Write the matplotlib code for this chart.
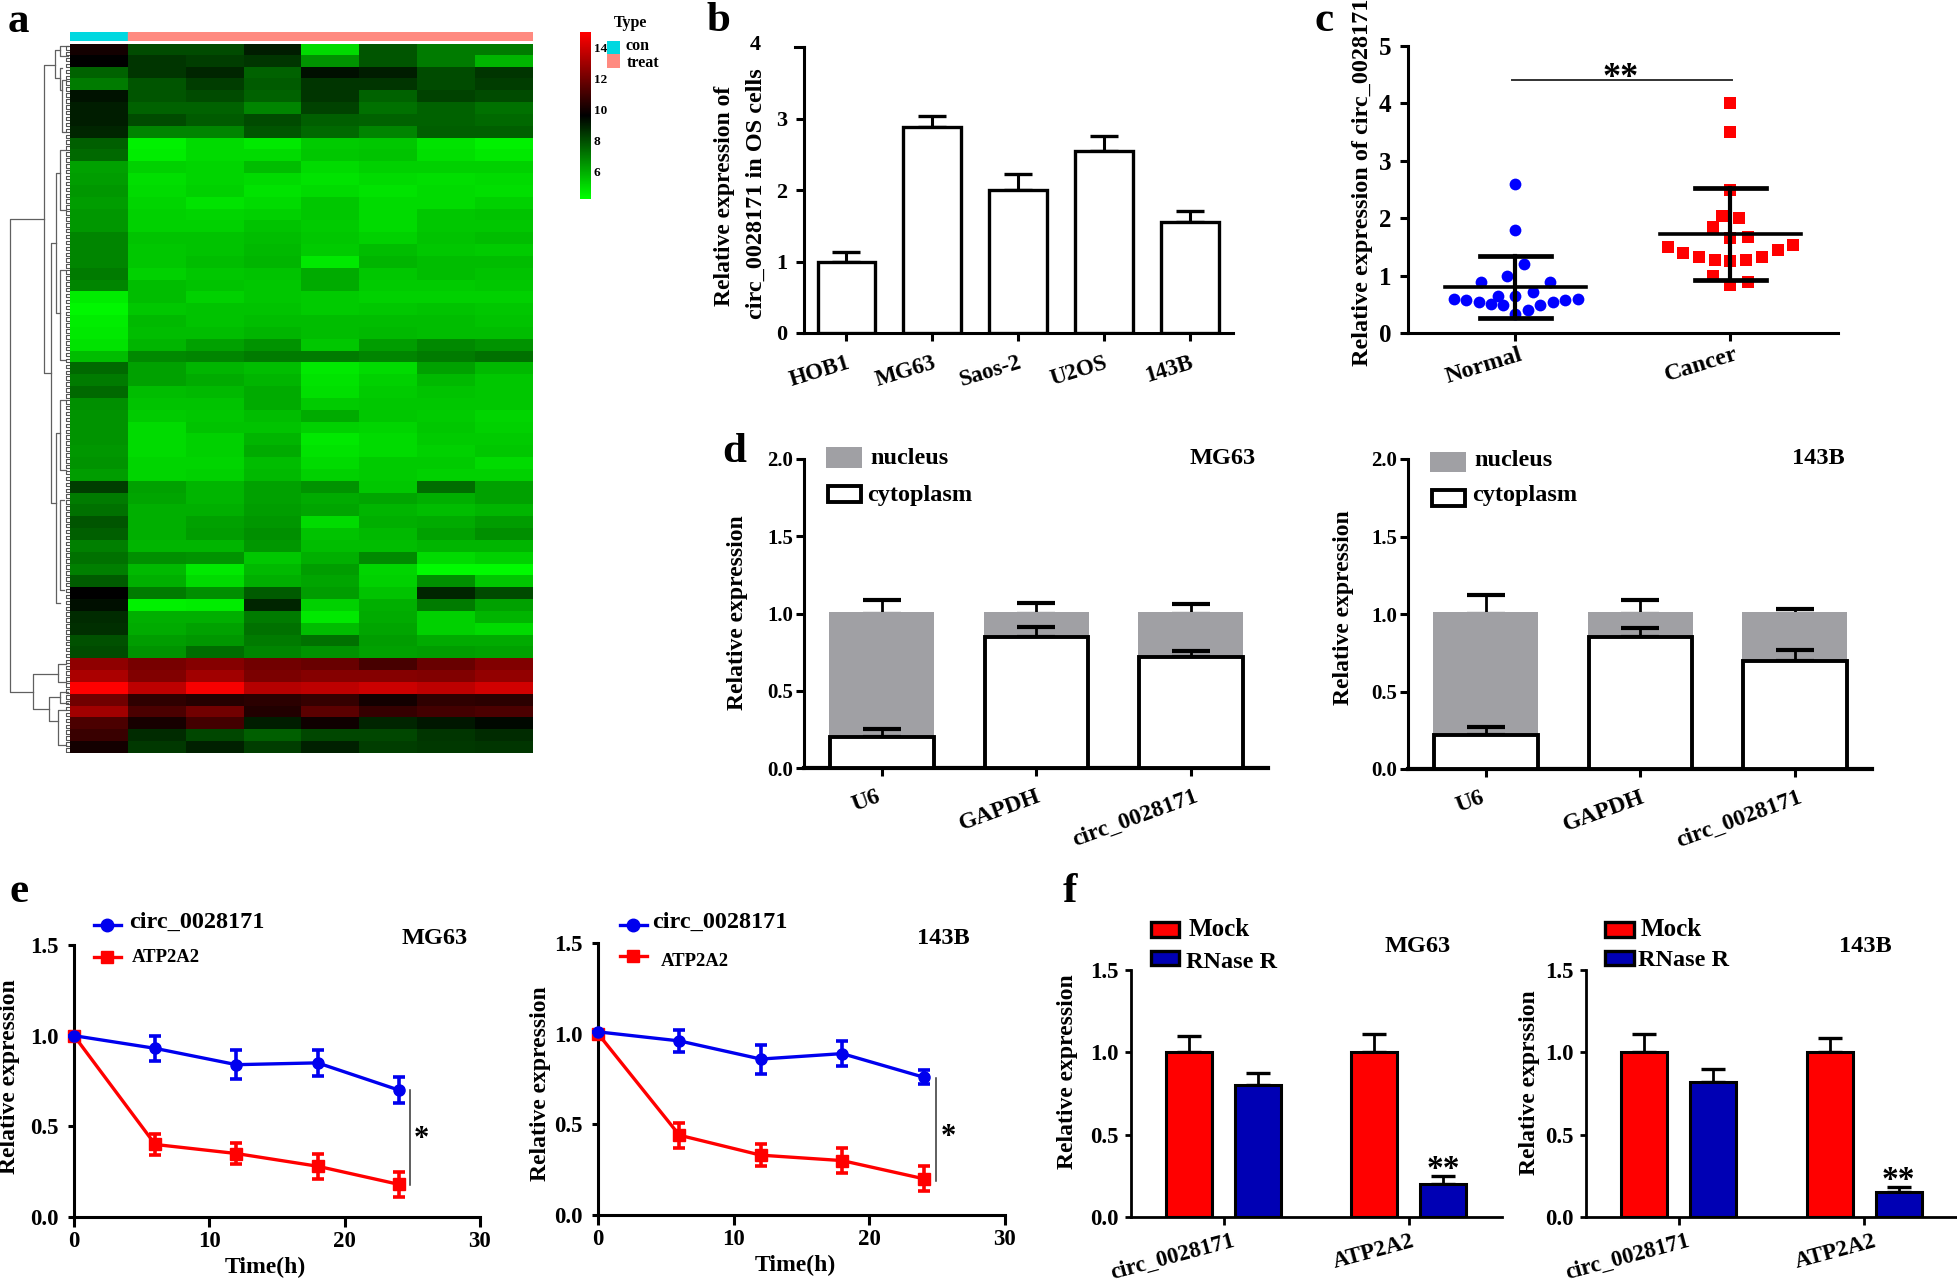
import numpy as np
import matplotlib
matplotlib.use('Agg')
from matplotlib import pyplot as plt
from matplotlib.colors import LinearSegmentedColormap
from matplotlib.patches import Rectangle
from matplotlib.lines import Line2D
from matplotlib.transforms import ScaledTranslation

plt.rcParams['font.family'] = ['Liberation Serif', 'DejaVu Serif']
plt.rcParams['font.weight'] = 'bold'

W, H = 1958, 1282

# panel a, expression values, one row per band
heat = np.array([
    [10.0, 8.0, 8.0, 9.0, 5.0, 7.8, 7.0, 7.0],
    [9.6, 8.5, 8.3, 8.5, 6.5, 7.8, 7.0, 5.8],
    [7.5, 8.5, 8.8, 7.5, 9.3, 9.0, 8.0, 8.5],
    [7.0, 7.8, 8.3, 7.7, 8.5, 8.5, 8.0, 8.3],
    [9.2, 7.8, 8.0, 7.5, 8.5, 7.5, 8.2, 8.0],
    [9.0, 7.5, 7.5, 6.8, 8.2, 7.2, 7.5, 7.2],
    [9.0, 8.0, 7.7, 8.0, 7.6, 7.5, 7.5, 7.4],
    [8.8, 6.8, 6.8, 7.8, 7.4, 6.8, 7.6, 7.6],
    [7.6, 4.5, 5.0, 4.7, 5.3, 5.4, 4.8, 4.5],
    [7.4, 4.6, 5.0, 5.0, 5.4, 5.5, 4.9, 4.7],
    [6.2, 5.2, 5.1, 5.6, 5.0, 5.2, 5.2, 5.2],
    [6.3, 4.9, 5.1, 5.0, 4.8, 5.0, 4.9, 5.0],
    [6.4, 5.0, 5.2, 4.8, 5.0, 4.8, 5.0, 4.9],
    [6.3, 5.1, 4.8, 5.0, 5.4, 5.0, 5.0, 5.2],
    [6.4, 5.2, 5.1, 5.2, 5.4, 5.0, 5.4, 5.5],
    [6.4, 5.2, 5.2, 5.5, 5.3, 5.0, 5.4, 5.4],
    [6.8, 5.5, 5.5, 5.6, 5.4, 5.2, 5.5, 5.6],
    [6.8, 5.4, 5.5, 5.7, 5.3, 5.6, 5.4, 5.3],
    [6.8, 5.4, 5.6, 5.8, 4.7, 5.8, 5.6, 5.6],
    [7.0, 5.2, 5.4, 5.5, 6.0, 5.4, 5.6, 5.5],
    [6.8, 5.6, 5.5, 5.4, 6.0, 5.3, 5.3, 5.4],
    [4.6, 5.6, 5.2, 5.4, 5.3, 5.2, 5.2, 5.2],
    [4.4, 5.4, 5.5, 5.5, 5.3, 5.4, 5.5, 5.4],
    [4.6, 5.7, 5.5, 5.6, 5.6, 5.6, 5.6, 5.5],
    [4.7, 5.6, 5.6, 5.8, 5.6, 5.7, 5.6, 5.6],
    [4.8, 5.8, 6.2, 6.5, 5.4, 6.3, 6.7, 6.5],
    [5.6, 6.7, 6.8, 7.0, 7.0, 6.8, 7.0, 7.2],
    [7.4, 6.2, 5.8, 5.6, 4.7, 5.0, 6.2, 5.7],
    [7.0, 6.2, 6.0, 5.8, 4.8, 5.2, 5.7, 5.4],
    [7.4, 5.6, 5.7, 6.0, 4.9, 5.3, 5.5, 5.4],
    [6.6, 5.5, 5.5, 6.0, 5.3, 5.4, 5.4, 5.4],
    [6.5, 5.3, 5.4, 5.6, 6.0, 5.4, 5.3, 5.1],
    [6.5, 5.0, 5.5, 5.5, 5.2, 5.1, 5.4, 5.2],
    [6.5, 5.0, 5.2, 5.8, 4.7, 5.0, 5.3, 5.3],
    [6.4, 5.0, 5.2, 6.0, 4.8, 5.0, 5.2, 5.4],
    [6.5, 5.1, 5.1, 5.6, 5.0, 5.3, 5.3, 5.0],
    [6.3, 5.1, 5.2, 5.7, 5.2, 5.3, 5.2, 5.2],
    [8.3, 6.2, 5.8, 6.2, 6.5, 5.4, 7.3, 6.2],
    [7.0, 6.1, 5.8, 6.2, 6.0, 6.1, 5.9, 6.2],
    [7.2, 5.9, 5.9, 6.3, 6.1, 5.8, 5.6, 5.8],
    [7.8, 5.9, 6.2, 6.4, 5.0, 5.9, 6.0, 6.3],
    [7.6, 5.9, 6.3, 6.6, 5.5, 5.7, 6.2, 6.6],
    [6.9, 5.8, 5.8, 6.4, 5.6, 5.6, 5.8, 5.8],
    [7.2, 6.6, 6.5, 5.4, 5.9, 6.7, 5.0, 5.2],
    [6.9, 5.7, 4.7, 5.7, 6.3, 5.1, 4.3, 4.3],
    [7.7, 5.9, 5.0, 5.9, 6.1, 5.2, 6.6, 5.4],
    [9.6, 7.0, 6.6, 7.7, 6.3, 5.5, 8.8, 8.0],
    [9.3, 4.5, 4.6, 8.8, 5.2, 5.9, 7.0, 6.2],
    [8.7, 5.9, 5.9, 7.0, 4.7, 6.0, 5.2, 5.8],
    [8.6, 6.0, 6.2, 7.2, 5.6, 6.1, 5.2, 5.0],
    [7.9, 6.3, 6.4, 7.0, 7.2, 6.3, 6.0, 6.0],
    [8.0, 6.5, 7.3, 6.8, 6.5, 6.2, 6.3, 6.2],
    [12.6, 12.1, 12.4, 12.0, 11.8, 11.1, 11.8, 12.3],
    [13.2, 12.3, 13.0, 12.2, 12.4, 12.4, 12.3, 12.7],
    [15.0, 13.6, 14.8, 13.4, 13.6, 13.9, 13.6, 14.0],
    [12.0, 10.6, 10.4, 10.5, 10.7, 10.0, 10.6, 10.5],
    [13.0, 11.2, 12.0, 10.3, 11.5, 10.7, 11.0, 11.2],
    [11.2, 10.1, 11.0, 9.0, 9.9, 8.8, 9.1, 9.4],
    [10.8, 8.7, 8.1, 7.6, 8.1, 8.1, 8.5, 8.7],
    [10.0, 8.4, 8.9, 8.3, 8.9, 8.3, 8.4, 8.5],
])
heat_ticks = [6, 8, 10, 12, 14]
# dendrogram: x of the vertical, its two y ends, x where each arm stops (pixels)
dend_links = [
    (10, 219, 692, 44, 33), (33, 674, 709, 58, 49), (49, 697, 721, 60, 58),
    (58, 664, 682, 66, 66), (60, 692, 703, 68, 68), (58, 710, 745, 66, 66),
    (44, 65, 373, 55, 51), (55, 50, 78, 60, 60), (60, 46, 56, 68, 68),
    (60, 68, 90, 62, 62), (62, 80, 132, 66, 66), (51, 243, 503, 56, 56),
    (56, 173, 313, 60, 60), (60, 150, 210, 66, 66), (60, 270, 360, 65, 65),
    (56, 433, 603, 60, 60), (60, 400, 470, 66, 66), (60, 500, 590, 64, 64),
]

# panel b
b_cells = ['HOB1', 'MG63', 'Saos-2', 'U2OS', '143B']
b_vals = [1.0, 2.88, 2.0, 2.55, 1.55]
b_tops = [1.13, 3.04, 2.23, 2.76, 1.70]

# panel c
c_groups = ['Normal', 'Cancer']
normal_off = [0, 0, .041, -.041, -.160, .162, .08, -.08, 0, -.287, -.230, -.172,
              -.113, -.057, .115, .174, .230, .289, 0, .059]
normal_val = [2.6, 1.8, 1.2, 1.0, .88, .89, .71, .65, .65, .6, .57, .54,
              .51, .48, .49, .54, .57, .6, .33, .4]
cancer_off = [0, 0, 0, -.039, .039, -.080, 0, .080, -.291, -.221, -.146, -.072,
              0, .072, .146, .219, .293, -.080, 0, .080]
cancer_val = [4.0, 3.5, 2.5, 2.03, 2.0, 1.85, 1.65, 1.68, 1.5, 1.4, 1.32, 1.27,
              1.25, 1.28, 1.33, 1.45, 1.53, 1.0, .83, .88]
normal_stats = (0.8, 0.27, 1.34)
cancer_stats = (1.72, 0.92, 2.52)

# panel d
d_names = ['U6', 'GAPDH', 'circ_0028171']
d_total = [1.0, 1.0, 1.0]
d1_cyto = [.20, .85, .72]
d1_cyto_top = [.25, .91, .76]
d1_nuc_top = [1.09, 1.07, 1.06]
d2_cyto = [.22, .85, .70]
d2_cyto_top = [.27, .91, .77]
d2_nuc_top = [1.12, 1.09, 1.03]

# panel e
hours = [0, 6, 12, 18, 24]
e1_circ = [1.0, .93, .84, .85, .70]
e1_circ_err = [0, .07, .08, .07, .07]
e1_atp = [1.0, .40, .35, .28, .18]
e1_atp_err = [0, .06, .06, .07, .07]
e2_circ = [1.01, .96, .86, .89, .76]
e2_circ_err = [0, .06, .08, .07, .04]
e2_atp = [1.0, .44, .33, .30, .20]
e2_atp_err = [0, .07, .06, .07, .07]

# panel f
f_names = ['circ_0028171', 'ATP2A2']
f1_mock = [1.0, 1.0]
f1_mock_top = [1.10, 1.11]
f1_rnase = [.80, .20]
f1_rnase_top = [.875, .25]
f2_mock = [1.0, 1.0]
f2_mock_top = [1.11, 1.09]
f2_rnase = [.82, .15]
f2_rnase_top = [.90, .18]

RED = '#ff0000'
BLUE = '#0000ee'
NAVY = '#0000b4'
GREY = '#a0a0a4'

fig = plt.figure(figsize=(W / 100, H / 100), dpi=100, facecolor='white')


def make_axes(left, right, top, bottom):
    return fig.add_axes([left / W, 1 - bottom / H, (right - left) / W, (bottom - top) / H])


def ftext(x, y, s, size=16, ha='left', va='center', **kw):
    fig.text(x / W, 1 - y / H, s, fontsize=size, ha=ha, va=va, **kw)


def fbox(x0, x1, y0, y1, color, edge='none', lw=0):
    fig.add_artist(Rectangle((x0 / W, 1 - y1 / H), (x1 - x0) / W, (y1 - y0) / H, facecolor=color,
                             edgecolor=edge, linewidth=lw, transform=fig.transFigure))


def fline(x0, x1, y0, y1, color='black', lw=2, **kw):
    fig.add_artist(Line2D([x0 / W, x1 / W], [1 - y0 / H, 1 - y1 / H], color=color, lw=lw,
                          transform=fig.transFigure, **kw))


def style(ax, size=16, lw=2, pad=3, xlen=6, ylen=6):
    for s in ['top', 'right']:
        ax.spines[s].set_visible(False)
    ax.spines['left'].set_linewidth(lw)
    ax.spines['bottom'].set_linewidth(lw)
    ax.tick_params(axis='y', width=lw, length=ylen, labelsize=size, pad=pad)
    ax.tick_params(axis='x', width=lw, length=xlen, labelsize=size, pad=pad)
    ax.patch.set_alpha(0)


def rotated_labels(ax, names, size, angle=18, pad=4, dxs=None):
    ax.set_xticklabels(names, rotation=angle, ha='right', rotation_mode='anchor', fontsize=size)
    ax.tick_params(axis='x', pad=pad)
    # dx in pixels, the labels do not sit quite under their ticks
    if dxs:
        for lab, dx in zip(ax.get_xticklabels(), dxs):
            lab.set_transform(lab.get_transform() + ScaledTranslation(dx / 100, 0, fig.dpi_scale_trans))


# ---- a: heatmap
green_black_red = LinearSegmentedColormap.from_list(
    'gbr', [(0, '#00ff00'), (5.4 / 10.8, '#000000'), (1, '#ff0000')])
ax = make_axes(70, 533, 44, 753)
ax.imshow(heat, aspect='auto', cmap=green_black_red, vmin=4.2, vmax=15, interpolation='nearest')
ax.axis('off')

ax = make_axes(70, 533, 32, 41)
ax.add_patch(Rectangle((0, 0), 1, 1, color='#00d8e0'))
ax.add_patch(Rectangle((1, 0), 7, 1, color='#ff8a80'))
ax.set_xlim(0, 8)
ax.set_ylim(0, 1)
ax.axis('off')

ax = make_axes(580, 591, 32, 199)
ax.imshow(np.linspace(15, 4.2, 200)[:, None], aspect='auto', cmap=green_black_red, vmin=4.2, vmax=15,
          extent=[0, 1, 4.2, 15])
ax.set_xticks([])
ax.yaxis.tick_right()
ax.set_yticks(heat_ticks)
ax.tick_params(axis='y', length=0, labelsize=9.5, pad=2)
for s in ax.spines.values():
    s.set_visible(False)

ftext(631, 23, 'Type', size=11.5, ha='center')
fbox(607, 620, 41, 54, '#00d8e0')
fbox(607, 620, 54, 68, '#ff8a80')
ftext(626, 46, 'con', size=11.5)
ftext(627, 63, 'treat', size=11.5)

# dendrogram, drawn in figure pixels
ax = make_axes(0, 70, 44, 753)
ax.set_xlim(0, 70)
ax.set_ylim(753, 44)
ax.axis('off')
for x, y0, y1, x0, x1 in dend_links:
    ax.plot([x0, x, x, x1], [y0, y0, y1, y1], color='#606060', lw=0.9)
leaf_y = np.arange(46, 752, 5.9)
for i, y in enumerate(leaf_y):
    ax.plot([69.5, 66, 66, 69.5], [y, y, y + 3.5, y + 3.5], color='#555555', lw=0.8)

# ---- b
ax = make_axes(804, 1233.5, 47, 333)
pos = np.arange(1, 6)
ax.bar(pos, b_vals, width=0.67, facecolor='white', edgecolor='black', linewidth=2.4, zorder=3)
ax.errorbar(pos, b_vals, yerr=[np.zeros(5), np.array(b_tops) - b_vals], fmt='none', ecolor='black',
            elinewidth=2.2, capsize=10, capthick=2.4, zorder=2)
ax.set_xlim(0.507, 5.506)
ax.set_ylim(0, 4)
ax.set_yticks([0, 1, 2, 3])
ax.set_xticks(pos)
style(ax, size=16, lw=2.2, pad=6)
rotated_labels(ax, b_cells, 16.5, angle=17, pad=8)
ftext(761, 45, '4', size=16, ha='right')
fig.add_artist(Line2D([795 / W, 804 / W], [1 - 47 / H] * 2, color='black', lw=2.2, transform=fig.transFigure))
ftext(725, 196, 'Relative expression of', size=17, ha='center', rotation=90)
ftext(756, 194, 'circ_0028171 in OS cells', size=17.5, ha='center', rotation=90)

# ---- c
ax = make_axes(1408, 1838, 46, 333)
ax.scatter(1 + np.array(normal_off), normal_val, s=72, color='#0000ff', marker='o', zorder=2, lw=0)
ax.scatter(2 + np.array(cancer_off), cancer_val, s=66, color='#ff0000', marker='s', zorder=2, lw=0)
for x0, (m, lo, hi) in zip([1, 2], [normal_stats, cancer_stats]):
    ax.plot([x0 - .33, x0 + .33], [m, m], color='black', lw=2.6, zorder=3)
    ax.plot([x0, x0], [lo, hi], color='black', lw=3, zorder=3)
    ax.plot([x0 - .166, x0 + .166], [lo, lo], color='black', lw=3.4, zorder=3)
    ax.plot([x0 - .166, x0 + .166], [hi, hi], color='black', lw=3.4, zorder=3)
ax.plot([.985, 2.005], [4.4, 4.4], color='#333333', lw=1.4)
ax.text(1.49, 4.14, '**', fontsize=26, ha='center', va='bottom')
ax.set_xlim(0.5, 2.5)
ax.set_ylim(0, 5)
ax.set_xticks([1, 2])
ax.set_yticks(range(6))
style(ax, size=18, lw=2.2, pad=6)
rotated_labels(ax, c_groups, 17.5, angle=17, pad=2, dxs=[3, 4])
ftext(1363, 366, 'Relative expression of circ_0028171', size=17.5, ha='center', va='bottom', rotation=90)

# ---- d
panels_d = [
    (804, 1268, 459, 768, d1_cyto, d1_cyto_top, d1_nuc_top, 'MG63', 1223, 738, 613),
    (1408, 1872, 459, 769, d2_cyto, d2_cyto_top, d2_nuc_top, '143B', 1818, 1344, 608),
]
for left, right, top, bottom, cyto, cyto_top, nuc_top, cell, cell_x, lab_x, lab_y in panels_d:
    ax = make_axes(left, right, top, bottom)
    pos = np.arange(1, 4)
    ax.errorbar(pos, d_total, yerr=[np.zeros(3), np.array(nuc_top) - d_total], fmt='none', ecolor='black',
                elinewidth=2, capsize=14, capthick=3, zorder=1)
    ax.bar(pos, d_total, width=0.68, color=GREY, bottom=0.01, zorder=1.5)
    ax.errorbar(pos, cyto, yerr=[np.zeros(3), np.array(cyto_top) - cyto], fmt='none', ecolor='black',
                elinewidth=2, capsize=14, capthick=3, zorder=2)
    ax.bar(pos, cyto, width=0.67, facecolor='white', edgecolor='black', linewidth=2.8, zorder=3)
    ax.set_xlim(0.495, 3.5)
    ax.set_ylim(0, 2)
    ax.set_xticks(pos)
    ax.set_yticks([0, .5, 1, 1.5, 2], ['0.0', '0.5', '1.0', '1.5', '2.0'])
    style(ax, size=15, lw=2.2, pad=2)
    ax.spines['bottom'].set_linewidth(3)
    rotated_labels(ax, d_names, 17, angle=20, pad=7, dxs=[-6, 0, 3])
    ftext(cell_x, 459, cell, size=17.5, ha='center')
    ftext(lab_x, lab_y, 'Relative expression', size=17, ha='center', rotation=90)

fbox(826, 862, 447, 468, GREY)
fbox(828, 861, 486, 502, 'white', 'black', 2.8)
ftext(870, 458, 'nucleus', size=17.5)
ftext(867, 495, 'cytoplasm', size=17.5)
fbox(1430, 1466, 452, 472, GREY)
fbox(1432, 1465, 490, 506, 'white', 'black', 2.8)
ftext(1474, 461, 'nucleus', size=17.5)
ftext(1472, 495, 'cytoplasm', size=17.5)

# ---- e
panels_e = [
    (74, 480, 945, 1217, e1_circ, e1_circ_err, e1_atp, e1_atp_err, 24.8, (.175, .70), 25.7,
     'MG63', 435, 10, 1077, 265),
    (598, 1005, 943, 1215, e2_circ, e2_circ_err, e2_atp, e2_atp_err, 24.9, (.185, .755), 25.8,
     '143B', 943, 541, 1084, 795),
]
for left, right, top, bottom, circ, circ_err, atp, atp_err, sig_x, sig_y, star_x, cell, cell_x, lab_x, lab_y, t_x in panels_e:
    ax = make_axes(left, right, top, bottom)
    ax.errorbar(hours, atp, yerr=atp_err, color=RED, marker='s', ms=8, lw=2.4, elinewidth=2.6, capsize=4.5,
                capthick=2.6, clip_on=False, zorder=3)
    ax.errorbar(hours, circ, yerr=circ_err, color=BLUE, marker='o', ms=8, lw=2.4, elinewidth=2.6, capsize=4.5,
                capthick=2.6, clip_on=False, zorder=4)
    ax.plot([sig_x, sig_x], sig_y, color='#333333', lw=1.1)
    ax.text(star_x, 0.43, '*', fontsize=22, ha='center', va='center')
    ax.set_xlim(0, 30)
    ax.set_ylim(0, 1.5)
    ax.set_xticks([0, 10, 20, 30])
    ax.set_yticks([0, .5, 1, 1.5], ['0.0', '0.5', '1.0', '1.5'])
    style(ax, size=16.5, lw=2.2, pad=3, xlen=7, ylen=4)
    ax.tick_params(axis='y', pad=7)
    ftext(cell_x, 939, cell, size=17.5, ha='center')
    ftext(lab_x, lab_y, 'Relative expression', size=17, ha='center', rotation=90)
    ftext(t_x, bottom + 50, 'Time(h)', size=17, ha='center')

for x0, x1, t0, y_atp, t1, y_atp_txt in [(94, 121, 129, 957, 132, 957), (620, 647, 652, 956, 661, 962)]:
    fline(x0, x1, 925, 925, color=BLUE, lw=2.4)
    fig.add_artist(Line2D([(x0 + x1) / 2 / W], [1 - 925 / H], marker='o', ms=9, color=BLUE,
                          transform=fig.transFigure))
    fline(x0, x1, y_atp, y_atp, color=RED, lw=2.4)
    fig.add_artist(Line2D([(x0 + x1) / 2 / W], [1 - y_atp / H], marker='s', ms=8, color=RED,
                          transform=fig.transFigure))
    ftext(t0, 922, 'circ_0028171', size=17.5)
    ftext(t1, y_atp_txt, 'ATP2A2', size=13.5)

# ---- f
panels_f = [
    (1131, 1502, f1_mock, f1_mock_top, f1_rnase, f1_rnase_top, 'MG63', 1418, 'Relative expression', 1068, 1072, [8, 3]),
    (1586, 1958, f2_mock, f2_mock_top, f2_rnase, f2_rnase_top, '143B', 1865, 'Relative exprssion', 1530, 1083, [8, 9]),
]
for left, right, mock, mock_top, rnase, rnase_top, cell, cell_x, ylab, lab_x, lab_y, dxs in panels_f:
    ax = make_axes(left, right, 970, 1217)
    pos = np.arange(1, 3)
    ax.bar(pos - .186, mock, width=.25, facecolor=RED, edgecolor='black', linewidth=2.2, zorder=3)
    ax.bar(pos + .186, rnase, width=.25, facecolor=NAVY, edgecolor='black', linewidth=2.2, zorder=3)
    ax.errorbar(pos - .186, mock, yerr=[[0, 0], np.array(mock_top) - mock], fmt='none', ecolor='black',
                elinewidth=2, capsize=8.5, capthick=2.4, zorder=2)
    ax.errorbar(pos + .186, rnase, yerr=[[0, 0], np.array(rnase_top) - rnase], fmt='none', ecolor='black',
                elinewidth=2, capsize=8.5, capthick=2.4, zorder=2)
    ax.text(2.186, rnase_top[1] - .055, '**', fontsize=24, ha='center', va='bottom')
    ax.set_xlim(0.5, 2.505)
    ax.set_ylim(0, 1.5)
    ax.set_xticks(pos)
    ax.set_yticks([0, .5, 1, 1.5], ['0.0', '0.5', '1.0', '1.5'])
    style(ax, size=16.5, lw=2, pad=5, xlen=6, ylen=4)
    rotated_labels(ax, f_names, 16.5, angle=15, pad=4, dxs=dxs)
    ftext(cell_x, 947, cell, size=17.5, ha='center')
    ftext(lab_x, lab_y, ylab, size=17, ha='center', rotation=90)

for x0, x1, mock_x, rn_x, rn_y in [(1151, 1179, 1189, 1186, 962), (1605, 1634, 1641, 1638, 960)]:
    fbox(x0, x1, 922, 937, RED, 'black', 2.4)
    fbox(x0, x1, 951, 965, NAVY, 'black', 2.4)
    ftext(mock_x, 930, 'Mock', size=18)
    ftext(rn_x, rn_y, 'RNase R', size=17.5)

# panel letters
for letter, x, y in [('a', 18, 32), ('b', 718, 31), ('c', 1324, 31), ('d', 734, 462), ('e', 19, 902), ('f', 1070, 902)]:
    ftext(x, y, letter, size=31, ha='center', va='baseline')

fig.savefig('out.png', dpi=100)
